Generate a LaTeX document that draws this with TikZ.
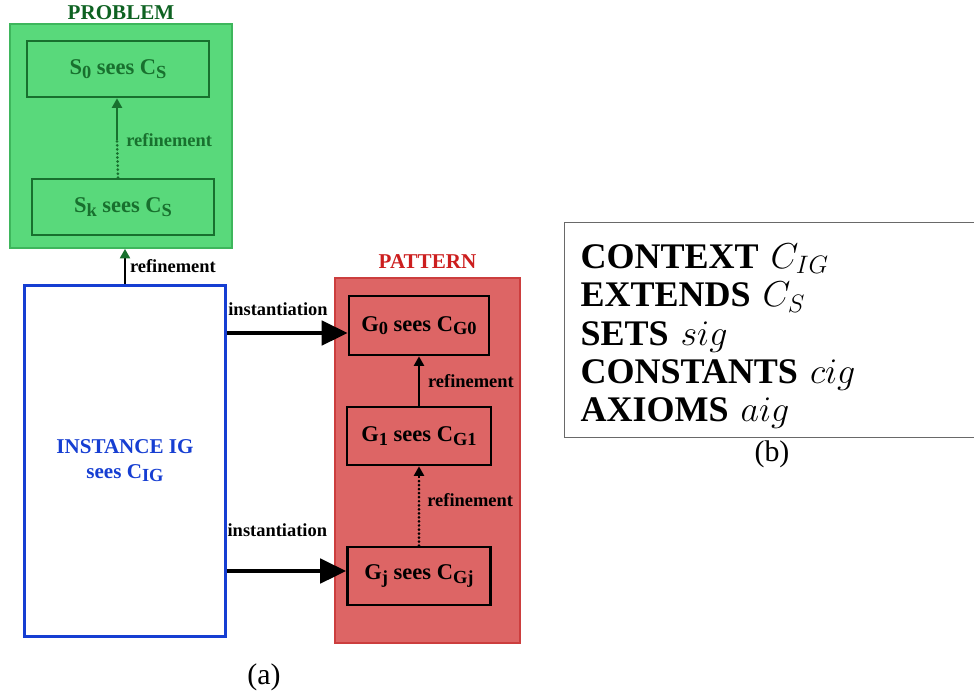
\RequirePackage{fix-cm}
\documentclass[tikz,border=0pt]{standalone}
\usepackage{fontspec}
\setmainfont{Liberation Serif}
\usepackage{amsmath}
\usetikzlibrary{arrows.meta,positioning}

\definecolor{probfill}{RGB}{89,217,123}
\definecolor{probline}{RGB}{62,182,92}
\definecolor{probdark}{RGB}{24,112,46}
\definecolor{probtitle}{RGB}{14,98,34}
\definecolor{patfill}{RGB}{221,101,101}
\definecolor{patline}{RGB}{204,62,62}
\definecolor{pattitle}{RGB}{204,30,30}
\definecolor{igblue}{RGB}{22,62,210}
\definecolor{ctxgray}{RGB}{105,105,105}

\newcommand{\lowsub}[1]{\raisebox{-0.35ex}{\fontsize{10.5}{10.5}\selectfont #1}}

\begin{document}
\begin{tikzpicture}[x=0.02cm,y=-0.02cm,
    machine/.style={draw, rectangle, line width=1.5pt, inner sep=0pt,
      font=\fontsize{12.8}{14}\selectfont\bfseries},
    title/.style={font=\fontsize{12}{14}\selectfont\bfseries, inner sep=0pt},
    lbl/.style={font=\fontsize{10.5}{12}\selectfont\bfseries, inner sep=0pt},
    dots/.style={line width=1.7pt, line cap=round, dash pattern=on 0pt off 2.3pt},
    refine/.style={-{Triangle[length=0.19cm,width=0.2cm]}, line width=1.2pt},
    inst/.style={-{Triangle[length=0.52cm,width=0.48cm]}, line width=2.8pt}]
  \useasboundingbox (0,0) rectangle (974,698);

  % problem side
  \node (prob) [draw=probline, fill=probfill, line width=1pt, minimum width=4.44cm, minimum height=4.48cm] at (121,136) {};
  \node (probt) [title, text=probtitle, above=0.07cm of prob] {PROBLEM};
  \node (s0) [machine, draw=probdark, text=probdark, minimum width=3.64cm, minimum height=1.12cm] at (118,69) {S\lowsub{0} sees C\lowsub{S}};
  \node (sk) [machine, draw=probdark, text=probdark, minimum width=3.64cm, minimum height=1.12cm] at (123,207) {S\lowsub{k} sees C\lowsub{S}};
  \coordinate (sjoin) at (117,140);
  \draw [dots, probdark] (s0.south |- sk.north) -- (sjoin);
  \draw [refine, probdark] (sjoin) -- (s0.south -| sjoin);
  \node [lbl, text=probdark, right=0.18cm of sjoin] {refinement};

  % instance
  \node (ig) [draw=igblue, line width=1.7pt, minimum width=4.04cm, minimum height=7.04cm, align=center,
    text=igblue, font=\fontsize{12}{14}\selectfont\bfseries] at (125,461) {INSTANCE IG\\ sees C\lowsub{IG}};
  \draw [-{Triangle[length=0.19cm,width=0.2cm,color=probdark]}, line width=1.2pt] (ig.north) -- (ig.north |- prob.south)
    node [lbl, midway, right=0.08cm] {refinement};

  % pattern side
  \node (pat) [draw=patline, fill=patfill, line width=0.8pt, minimum width=3.7cm, minimum height=7.3cm] at (427.5,460.5) {};
  \node (patt) [title, text=pattitle, above=0.16cm of pat] {PATTERN};
  \node (g0) [machine, minimum width=2.8cm, minimum height=1.18cm] at (419,325.5) {G\lowsub{0} sees C\lowsub{G0}};
  \node (g1) [machine, minimum width=2.88cm, minimum height=1.16cm] at (419,436) {G\lowsub{1} sees C\lowsub{G1}};
  \node (gj) [machine, minimum width=2.86cm, minimum height=1.16cm] at (419,576) {G\lowsub{j} sees C\lowsub{Gj}};
  \draw [refine] (g1.north) -- (g0.south) node [lbl, midway, right=0.16cm] {refinement};
  \coordinate (gjoin) at (419,478);
  \draw [dots] (gj.north) -- (gjoin);
  \draw [refine] (gjoin) -- (g1.south);
  \node [lbl, right=0.16cm] at (419,500) {refinement};

  % instantiation
  \draw [inst] ([yshift=-0.15cm]ig.east |- g0.west) -- ([yshift=-0.15cm]g0.west)
    node [lbl, pos=0.42, above=0.3cm] {instantiation};
  \draw [inst] ([yshift=0.1cm]ig.east |- gj.west) -- ([yshift=0.1cm]gj.west)
    node [lbl, pos=0.42, above=0.64cm] {instantiation};

  % context
  \node (ctx) [draw=ctxgray, line width=0.8pt, anchor=north west, minimum width=8.4cm, minimum height=4.3cm,
    inner xsep=9pt, text width=8.4cm-18pt, align=left, font=\fontsize{20.5}{21.8}\selectfont] at (564,222)
    {\rule{0pt}{21pt}\textbf{CONTEXT} $C_{IG}$\\ \textbf{EXTENDS} $C_S$\\ \textbf{SETS} $sig$\\ \textbf{CONSTANTS} $cig$\\ \textbf{AXIOMS} $aig$};

  \node (capa) [font=\fontsize{17}{20}\selectfont] at (264,677) {(a)};
  \node (capb) [font=\fontsize{17}{20}\selectfont] at (772,454) {(b)};
\end{tikzpicture}
\end{document}
